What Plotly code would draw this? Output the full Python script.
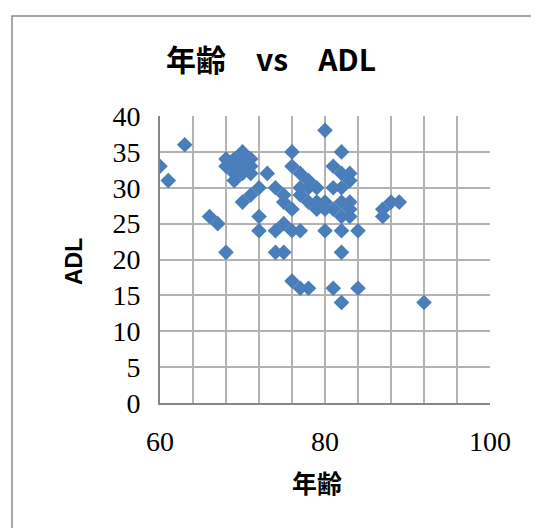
import plotly.graph_objects as go

age = [60, 61, 63, 66, 67, 68,
       68, 69, 69, 70, 70, 71, 69, 70, 71, 68, 69, 70, 71, 72, 71, 70, 73, 74, 72, 72,
       74, 75, 76, 77, 74, 75, 75, 76, 76, 76, 77, 77, 77, 78, 78, 78, 79, 79, 80, 80,
       80, 81, 81, 81, 82, 82, 82, 82, 82, 82, 82, 82, 83, 83, 83, 83, 83, 84, 84, 81,
       78, 77, 76, 87, 88, 89, 87, 92, 75, 80, 79]
adl = [33, 31, 36, 26, 25, 21,
       33, 34, 33, 35, 34, 34, 32, 33, 33, 34, 31, 32, 32, 30, 29, 28, 32, 30, 26, 24,
       24, 25, 24, 24, 21, 21, 28, 27, 35, 33, 32, 30, 29, 31, 30, 28, 30, 28, 28, 24,
       38, 33, 30, 27, 35, 32, 30, 28, 26, 24, 21, 14, 32, 31, 28, 27, 26, 24, 16, 16,
       16, 16, 17, 27, 28, 28, 26, 14, 29, 27, 27]

title = "年齢　vs　ADL"
x_title = "年齢"
y_title = "ADL"

OFF = 8  # page body margin
PL, PR, PT, PB = 160 - OFF, 490 - OFF, 116 - OFF, 403 - OFF
W, H = 539 - OFF, 528 - OFF
pw, ph = PR - PL, PB - PT


def px(x):
    return (x - OFF - PL) / pw


def py(y):
    return (PB - (y - OFF)) / ph


fig = go.Figure(go.Scatter(
    x=age, y=adl, mode="markers",
    marker=dict(symbol="diamond", size=12, color="#4A7EBB", line=dict(width=0)),
))

grid = "#B3B3B3"
tickfont = dict(family="Liberation Serif, Times New Roman, serif", size=28, color="black")
fig.update_layout(
    width=W, height=H,
    margin=dict(l=PL, r=W - PR, t=PT, b=H - PB, pad=0),
    paper_bgcolor="white", plot_bgcolor="white",
    showlegend=False,
    xaxis=dict(range=[60, 100], dtick=20, tick0=60, showgrid=True, gridcolor=grid, gridwidth=1.5,
               minor=dict(dtick=4, showgrid=True, gridcolor=grid, gridwidth=1.5),
               showline=True, linecolor="#868686", linewidth=2, zeroline=False,
               ticks="", ticklabelstandoff=12, tickfont=tickfont),
    yaxis=dict(range=[0, 40], dtick=5, showgrid=True, gridcolor=grid, gridwidth=1.5,
               showline=True, linecolor="#868686", linewidth=2, zeroline=False,
               ticks="", ticklabelstandoff=12, tickfont=tickfont),
    shapes=[dict(type="rect", xref="paper", yref="paper",
                 x0=px(12), x1=px(570), y0=py(570), y1=py(16),
                 line=dict(color="#888888", width=1.5), fillcolor="rgba(0,0,0,0)", layer="below")],
    annotations=[
        dict(text="<b>" + title + "</b>", xref="paper", yref="paper",
             x=px(271), y=py(58), xanchor="center", yanchor="middle", showarrow=False,
             font=dict(family="Noto Sans CJK JP", size=30, color="black")),
        dict(text="<b>" + x_title + "</b>", xref="paper", yref="paper",
             x=px(317), y=py(482), xanchor="center", yanchor="middle", showarrow=False,
             font=dict(family="Noto Sans CJK JP", size=25, color="black")),
        dict(text="<b>" + y_title + "</b>", xref="paper", yref="paper",
             x=px(74), y=py(262), xanchor="center", yanchor="middle", showarrow=False,
             textangle=-90,
             font=dict(family="Liberation Sans", size=23, color="black")),
    ],
)

fig.write_html("out.html")
